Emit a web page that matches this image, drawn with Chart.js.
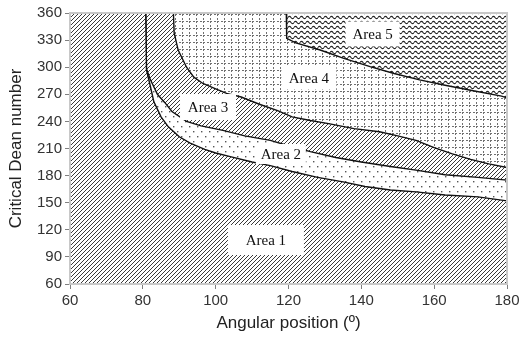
<!DOCTYPE html>
<html>
<head>
<meta charset="utf-8">
<script src="https://cdn.jsdelivr.net/npm/chart.js@4.4.1/dist/chart.umd.min.js"></script>
<style>
  html, body { margin: 0; padding: 0; background: #fff; }
</style>
</head>
<body>
<canvas id="chart" width="527" height="337"></canvas>
<script>
// Boundary curves: angular position (deg) -> critical Dean number
const area1TopX = [60, 80.8, 81, 82, 83, 85, 87, 90, 93, 97, 100, 104, 110, 115, 121, 128, 135, 141, 148, 155, 163, 172, 180];
const area1TopY = [360, 360, 297, 280, 262, 245, 234, 223, 216, 209, 205, 201, 195, 191, 184.5, 178, 173, 168, 164, 162, 158.5, 156.5, 152];

const area2TopX = [60, 80.8, 81, 82, 84, 86, 88, 92, 96, 102, 108, 115, 120, 126, 133, 140, 148, 155, 163, 172, 180];
const area2TopY = [360, 360, 298, 287, 270, 261, 251, 240, 235, 230, 224, 219, 213, 206.5, 200, 195, 190, 186, 181, 178, 175];

const area3TopX = [60, 88.4, 88.6, 89.7, 92, 94, 96.5, 100, 103, 107, 112, 117, 121, 126, 131, 138, 145, 150, 155, 160, 165, 170, 175, 180];
const area3TopY = [360, 360, 338, 319, 300, 289, 282, 276, 271, 267, 259, 252, 245, 241, 237.5, 232, 228.5, 224, 219, 211, 204, 198, 193, 189];

const area4TopX = [60, 119.4, 119.5, 122, 128.7, 135, 142.4, 149, 156, 163, 170, 178.5, 180];
const area4TopY = [360, 360, 332, 327, 319, 310, 300.6, 293, 286, 280, 274.5, 268, 266];

const area5TopX = [60, 180];
const area5TopY = [360, 360];

const areaNames = ['Area 1', 'Area 2', 'Area 3', 'Area 4', 'Area 5'];

const xTicks = [60, 80, 100, 120, 140, 160, 180];
const yTicks = [60, 90, 120, 150, 180, 210, 240, 270, 300, 330, 360];

// where the label boxes sit, in data units, and their box sizes in px
const labelSpots = [
  { x: 113.8, y: 108.7, w: 76, h: 30 },
  { x: 117.9, y: 203.9, w: 50, h: 20 },
  { x: 97.9, y: 255.9, w: 56, h: 26 },
  { x: 125.6, y: 288, w: 55, h: 23 },
  { x: 143.1, y: 336.8, w: 54, h: 25 }
];

function tile(w, h, draw) {
  const c = document.createElement('canvas');
  c.width = w; c.height = h;
  const g = c.getContext('2d');
  g.fillStyle = '#fff';
  g.fillRect(0, 0, w, h);
  draw(g);
  return g.createPattern(c, 'repeat');
}

const hatch = tile(4, 4, g => {
  g.strokeStyle = '#3a3a3a';
  g.lineWidth = 1;
  g.beginPath();
  g.moveTo(0, 4); g.lineTo(4, 0);
  g.moveTo(-2, 2); g.lineTo(2, -2);
  g.moveTo(2, 6); g.lineTo(6, 2);
  g.stroke();
});

const dots = tile(8, 10, g => {
  g.fillStyle = '#555';
  g.fillRect(1, 1, 1.4, 1.4);
  g.fillRect(5, 6, 1.4, 1.4);
});

const grid = tile(7, 7, g => {
  g.fillStyle = '#707070';
  g.fillRect(0, 0, 1, 2);
  g.fillRect(0, 4, 1, 2);
  g.fillRect(0, 0, 2, 1);
  g.fillRect(4, 0, 2, 1);
});

const waves = tile(6, 5, g => {
  g.strokeStyle = '#222';
  g.lineWidth = 1.1;
  g.beginPath();
  g.moveTo(0, 2.5);
  g.quadraticCurveTo(1.5, 0.3, 3, 2.5);
  g.quadraticCurveTo(4.5, 4.7, 6, 2.5);
  g.stroke();
});

const points = (xs, ys) => xs.map((x, i) => ({ x, y: ys[i] }));

const areaStyle = {
  borderColor: '#111',
  borderWidth: 1.4,
  pointRadius: 0,
  tension: 0,
  clip: 0
};

const labelPlugin = {
  id: 'areaLabels',
  afterDatasetsDraw(chart) {
    const { ctx, chartArea, scales } = chart;
    ctx.save();
    // light plot-area frame (also hides the curves' run along the 360 edge)
    ctx.strokeStyle = '#c8c8c8';
    ctx.lineWidth = 2;
    ctx.strokeRect(chartArea.left, chartArea.top, chartArea.right - chartArea.left, chartArea.bottom - chartArea.top);

    ctx.font = '15px "Liberation Serif", "Times New Roman", serif';
    ctx.textAlign = 'center';
    ctx.textBaseline = 'middle';
    labelSpots.forEach((s, i) => {
      const px = scales.x.getPixelForValue(s.x);
      const py = scales.y.getPixelForValue(s.y);
      ctx.fillStyle = '#fff';
      ctx.fillRect(px - s.w / 2, py - s.h / 2, s.w, s.h);
      ctx.fillStyle = '#111';
      ctx.fillText(areaNames[i], px, py + 1);
    });
    ctx.restore();
  }
};

const tickFont = { family: '"Liberation Sans", Arial, sans-serif', size: 15 };
const titleFont = { family: '"Liberation Sans", Arial, sans-serif', size: 17 };

new Chart(document.getElementById('chart'), {
  type: 'line',
  data: {
    datasets: [
      { label: areaNames[0], data: points(area1TopX, area1TopY), fill: 'start', backgroundColor: hatch, ...areaStyle },
      { label: areaNames[1], data: points(area2TopX, area2TopY), fill: '-1', backgroundColor: dots, ...areaStyle },
      { label: areaNames[2], data: points(area3TopX, area3TopY), fill: '-1', backgroundColor: hatch, ...areaStyle },
      { label: areaNames[3], data: points(area4TopX, area4TopY), fill: '-1', backgroundColor: grid, ...areaStyle },
      { label: areaNames[4], data: points(area5TopX, area5TopY), fill: '-1', backgroundColor: waves, ...areaStyle, borderWidth: 0 }
    ]
  },
  options: {
    responsive: false,
    animation: false,
    devicePixelRatio: 1,
    layout: { padding: { top: 13, right: 20, left: 0, bottom: 0 } },
    plugins: {
      legend: { display: false },
      tooltip: { enabled: false }
    },
    scales: {
      x: {
        type: 'linear',
        min: 60,
        max: 180,
        z: 1,
        afterFit: s => { s.height = 53; },
        afterBuildTicks: s => { s.ticks = xTicks.map(v => ({ value: v })); },
        ticks: { font: tickFont, color: '#333', padding: 3, maxRotation: 0 },
        grid: { drawOnChartArea: false, drawTicks: true, tickLength: 5, color: '#808080' },
        border: { color: '#808080', width: 1 },
        title: { display: true, text: 'Angular position (º)', font: titleFont, color: '#222', padding: { top: 4, bottom: 3 } }
      },
      y: {
        min: 60,
        max: 360,
        z: 1,
        afterFit: s => { s.width = 70; },
        afterBuildTicks: s => { s.ticks = yTicks.map(v => ({ value: v })); },
        ticks: { font: tickFont, color: '#333', padding: 3 },
        grid: { drawOnChartArea: false, drawTicks: true, tickLength: 5, color: '#808080' },
        border: { color: '#808080', width: 1 },
        title: { display: true, text: 'Critical Dean number', font: titleFont, color: '#222', padding: { top: 6, bottom: 0 } }
      }
    }
  },
  plugins: [labelPlugin]
});
</script>
</body>
</html>
